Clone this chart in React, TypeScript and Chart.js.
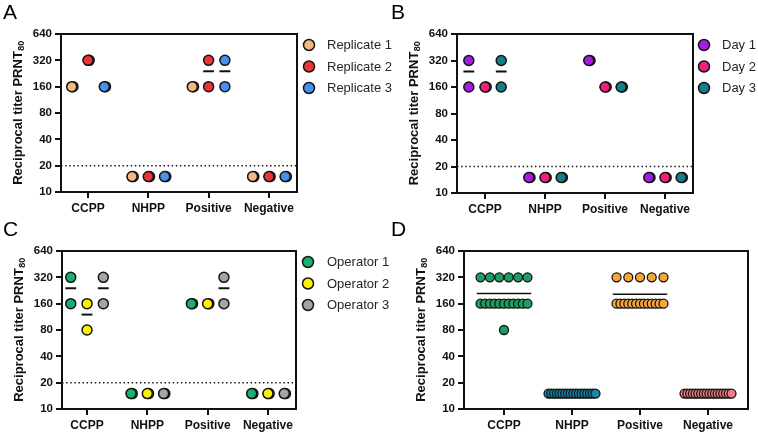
import React, { useEffect, useRef } from "react";
import { Chart, registerables } from "chart.js";

Chart.register(...registerables);

const FONT = "Arial, 'Liberation Sans', Helvetica, sans-serif";

const categories = ["CCPP", "NHPP", "Positive", "Negative"];
const yTickValues = [10, 20, 40, 80, 160, 320, 640];
const lodLine = 20;

// Panel A – replicates (two readings per sample)
const replicateNames = ["Replicate 1", "Replicate 2", "Replicate 3"];
const replicateColors = ["#F6B67E", "#EC3438", "#4592EE"];
const replicate1 = [[160, 160], [15, 15], [160, 160], [15, 15]];
const replicate2 = [[320, 320], [15, 15], [320, 160], [15, 15]];
const replicate3 = [[160, 160], [15, 15], [320, 160], [15, 15]];

// Panel B – days
const dayNames = ["Day 1", "Day 2", "Day 3"];
const dayColors = ["#A61CE6", "#F2207A", "#127E8C"];
const day1 = [[320, 160], [15, 15], [320, 320], [15, 15]];
const day2 = [[160, 160], [15, 15], [160, 160], [15, 15]];
const day3 = [[320, 160], [15, 15], [160, 160], [15, 15]];

// Panel C – operators
const operatorNames = ["Operator 1", "Operator 2", "Operator 3"];
const operatorColors = ["#17B070", "#FFEF00", "#A5A5A5"];
const operator1 = [[320, 160], [15, 15], [160, 160], [15, 15]];
const operator2 = [[160, 80], [15, 15], [160, 160], [15, 15]];
const operator3 = [[320, 160], [15, 15], [320, 160], [15, 15]];

// Panel D – all readings pooled per sample
const pooledColors = ["#1E9C63", "#1788A6", "#F7A63A", "#F17E87"];
const allSeries = [replicate1, replicate2, replicate3, day1, day2, day3, operator1, operator2, operator3];
const pooledValues = categories.map((_, c) => allSeries.flatMap((s) => s[c]));

type Spec = {
  left: number;
  top: number;
  width: number;
  height: number;
  plot: { l: number; r: number; t: number; b: number };
  xMin: number;
  xMax: number;
  letter: string;
  letterX: number;
  kind: "groups" | "pooled";
  series?: number[][][];
  names?: string[];
  colors: string[];
  legendMarkerX?: number;
  legendTextX?: number;
  legendYs?: number[];
  pointRadius: number;
  lod: boolean;
  meanHalf: number;
  meanLineWidth: number;
};

const seriesOffsets = [-0.27, 0, 0.27];
const dupShift = 0.02;
const swarmHalf = 0.345;

const mean = (a: number[]) => a.reduce((s, v) => s + v, 0) / a.length;

function buildData(spec: Spec) {
  const datasets: any[] = [];
  const means: { x: number; value: number }[] = [];
  if (spec.kind === "groups" && spec.series) {
    spec.series.forEach((ser, s) => {
      const pts: { x: number; y: number }[] = [];
      ser.forEach((vals, c) => {
        const cx = c + seriesOffsets[s];
        vals.forEach((v, k) => {
          const after = vals.slice(k + 1).filter((w) => w === v).length;
          pts.push({ x: cx + after * dupShift, y: v });
        });
        means.push({ x: cx, value: mean(vals) });
      });
      datasets.push({
        label: spec.names ? spec.names[s] : "",
        data: pts,
        backgroundColor: spec.colors[s],
        borderColor: "#141414",
        borderWidth: 1.5,
        pointRadius: spec.pointRadius,
        pointHoverRadius: spec.pointRadius,
        showLine: false,
      });
    });
  } else {
    pooledValues.forEach((vals, c) => {
      const distinct = Array.from(new Set(vals)).sort((a, b) => b - a);
      const pts: { x: number; y: number }[] = [];
      distinct.forEach((v) => {
        const n = vals.filter((w) => w === v).length;
        for (let i = 0; i < n; i++) {
          const x = n === 1 ? c : c - swarmHalf + (2 * swarmHalf * i) / (n - 1);
          pts.push({ x, y: v });
        }
      });
      means.push({ x: c, value: mean(vals) });
      datasets.push({
        label: categories[c],
        data: pts,
        backgroundColor: pooledColors[c],
        borderColor: "#141414",
        borderWidth: 1.3,
        pointRadius: spec.pointRadius,
        pointHoverRadius: spec.pointRadius,
        showLine: false,
      });
    });
  }
  return { datasets, means };
}

function makePlugin(spec: Spec, means: { x: number; value: number }[]) {
  return {
    id: "panelDecor",
    beforeDatasetsDraw(chart: any) {
      const { ctx, chartArea: a, scales } = chart;
      const xs = scales.x;
      const ys = scales.y;
      ctx.save();
      if (spec.lod) {
        const y = ys.getPixelForValue(lodLine);
        ctx.setLineDash([1.5, 2.6]);
        ctx.lineWidth = 1.5;
        ctx.strokeStyle = "#1a1a1a";
        ctx.beginPath();
        ctx.moveTo(a.left, y);
        ctx.lineTo(a.right, y);
        ctx.stroke();
        ctx.setLineDash([]);
      }
      ctx.strokeStyle = "#111";
      ctx.lineWidth = spec.meanLineWidth;
      for (const m of means) {
        const y = ys.getPixelForValue(m.value);
        ctx.beginPath();
        ctx.moveTo(xs.getPixelForValue(m.x - spec.meanHalf), y);
        ctx.lineTo(xs.getPixelForValue(m.x + spec.meanHalf), y);
        ctx.stroke();
      }
      ctx.restore();
    },
    afterDraw(chart: any) {
      const { ctx, chartArea: a } = chart;
      ctx.save();
      // box
      ctx.strokeStyle = "#111";
      ctx.lineWidth = 2;
      ctx.beginPath();
      ctx.moveTo(a.left, a.top);
      ctx.lineTo(a.right, a.top);
      ctx.lineTo(a.right, a.bottom);
      ctx.stroke();

      // legend
      if (spec.names && spec.legendYs) {
        spec.names.forEach((name, i) => {
          const y = spec.legendYs![i];
          ctx.beginPath();
          ctx.arc(spec.legendMarkerX!, y, 5.5, 0, Math.PI * 2);
          ctx.fillStyle = spec.colors[i];
          ctx.fill();
          ctx.lineWidth = 1.5;
          ctx.strokeStyle = "#141414";
          ctx.stroke();
          ctx.fillStyle = "#262626";
          ctx.font = `13px ${FONT}`;
          ctx.textBaseline = "middle";
          ctx.textAlign = "left";
          ctx.fillText(name, spec.legendTextX!, y + 0.5);
        });
      }

      // y title with subscript
      const cx = a.left - 43;
      const cy = (a.top + a.bottom) / 2;
      ctx.translate(cx, cy);
      ctx.rotate(-Math.PI / 2);
      ctx.fillStyle = "#111";
      ctx.textBaseline = "middle";
      ctx.textAlign = "left";
      const main = "Reciprocal titer PRNT";
      const sub = "80";
      ctx.font = `bold 13px ${FONT}`;
      const w1 = ctx.measureText(main).width;
      ctx.font = `bold 9px ${FONT}`;
      const w2 = ctx.measureText(sub).width;
      const start = -(w1 + w2) / 2;
      ctx.font = `bold 13px ${FONT}`;
      ctx.fillText(main, start, 0);
      ctx.font = `bold 9px ${FONT}`;
      ctx.fillText(sub, start + w1 + 0.5, 4);
      ctx.setTransform(1, 0, 0, 1, 0, 0);

      // panel letter
      ctx.fillStyle = "#000";
      ctx.font = `21px ${FONT}`;
      ctx.textBaseline = "alphabetic";
      ctx.textAlign = "left";
      ctx.fillText(spec.letter, spec.letterX, 19);
      ctx.restore();
    },
  };
}

function Panel({ spec }: { spec: Spec }) {
  const ref = useRef<HTMLCanvasElement | null>(null);
  useEffect(() => {
    const canvas = ref.current;
    if (!canvas) return;
    const { datasets, means } = buildData(spec);
    const W = spec.width;
    const H = spec.height;
    const chart = new Chart(canvas, {
      type: "scatter",
      data: { datasets },
      options: {
        animation: false,
        responsive: false,
        events: [],
        layout: {
          autoPadding: false,
          padding: { left: 0, top: spec.plot.t, right: W - spec.plot.r, bottom: 0 },
        },
        plugins: {
          legend: { display: false },
          tooltip: { enabled: false },
          title: { display: false },
        },
        scales: {
          x: {
            type: "linear",
            min: spec.xMin,
            max: spec.xMax,
            afterFit: (s: any) => {
              s.height = H - spec.plot.b;
            },
            afterBuildTicks: (s: any) => {
              s.ticks = categories.map((_, i) => ({ value: i }));
            },
            ticks: {
              callback: (v: any) => categories[Number(v)] ?? "",
              font: { family: FONT, size: 12, weight: "bold" },
              color: "#111",
              padding: 3,
              maxRotation: 0,
              autoSkip: false,
            },
            grid: {
              display: true,
              drawOnChartArea: false,
              drawTicks: true,
              tickLength: 6,
              color: "#111",
              lineWidth: 2,
            },
            border: { display: true, color: "#111", width: 2 },
          },
          y: {
            type: "logarithmic",
            min: 10,
            max: 640,
            afterFit: (s: any) => {
              s.width = spec.plot.l;
            },
            afterBuildTicks: (s: any) => {
              s.ticks = yTickValues.map((v) => ({ value: v }));
            },
            ticks: {
              callback: (v: any) => String(v),
              font: { family: FONT, size: 11.5, weight: "bold" },
              color: "#111",
              padding: 3,
              autoSkip: false,
            },
            grid: {
              display: true,
              drawOnChartArea: false,
              drawTicks: true,
              tickLength: 6,
              color: "#111",
              lineWidth: 2,
            },
            border: { display: true, color: "#111", width: 2 },
          },
        },
      } as any,
      plugins: [makePlugin(spec, means)],
    });
    return () => chart.destroy();
  }, [spec]);
  return (
    <canvas
      ref={ref}
      width={spec.width}
      height={spec.height}
      style={{
        position: "absolute",
        left: spec.left,
        top: spec.top,
        width: spec.width,
        height: spec.height,
      }}
    />
  );
}

const legendRows = [45, 66.5, 88];

const specs: Spec[] = [
  {
    left: 0, top: 0, width: 400, height: 217,
    plot: { l: 61, r: 297, t: 34, b: 192 },
    xMin: -0.448, xMax: 3.466,
    letter: "A", letterX: 3,
    kind: "groups", series: [replicate1, replicate2, replicate3], names: replicateNames, colors: replicateColors,
    legendMarkerX: 309, legendTextX: 327, legendYs: legendRows,
    pointRadius: 5, lod: true, meanHalf: 0.09, meanLineWidth: 2,
  },
  {
    left: 379, top: 0, width: 379, height: 217,
    plot: { l: 78, r: 314, t: 34, b: 193 },
    xMin: -0.467, xMax: 3.467,
    letter: "B", letterX: 12,
    kind: "groups", series: [day1, day2, day3], names: dayNames, colors: dayColors,
    legendMarkerX: 325, legendTextX: 343, legendYs: legendRows,
    pointRadius: 5, lod: true, meanHalf: 0.09, meanLineWidth: 2,
  },
  {
    left: 0, top: 217, width: 400, height: 217,
    plot: { l: 62, r: 296, t: 34, b: 192 },
    xMin: -0.415, xMax: 3.465,
    letter: "C", letterX: 3,
    kind: "groups", series: [operator1, operator2, operator3], names: operatorNames, colors: operatorColors,
    legendMarkerX: 308, legendTextX: 327, legendYs: legendRows,
    pointRadius: 5, lod: true, meanHalf: 0.09, meanLineWidth: 2,
  },
  {
    left: 379, top: 217, width: 379, height: 217,
    plot: { l: 85, r: 369, t: 34, b: 192 },
    xMin: -0.588, xMax: 3.588,
    letter: "D", letterX: 12,
    kind: "pooled", colors: pooledColors,
    pointRadius: 4.5, lod: false, meanHalf: 0.4, meanLineWidth: 1.5,
  },
];

export default function App() {
  return (
    <div
      style={{
        position: "absolute",
        left: 0,
        top: 0,
        width: 758,
        height: 434,
        overflow: "hidden",
        background: "#fff",
      }}
    >
      {specs.map((s) => (
        <Panel key={s.letter} spec={s} />
      ))}
    </div>
  );
}
